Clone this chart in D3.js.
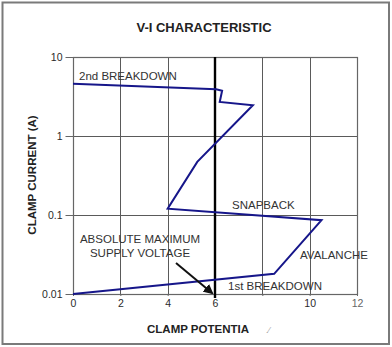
<!DOCTYPE html>
<html>
<head>
<meta charset="utf-8">
<script src="https://cdn.jsdelivr.net/npm/d3@7"></script>
<style>
  html, body { margin: 0; padding: 0; background: #fff; }
  svg { display: block; font-family: Arial, "Liberation Sans", sans-serif; }
</style>
</head>
<body>
<svg id="chart" width="392" height="347"></svg>
<script>
// Clamp voltage (V) and clamp current (A) along the V-I curve
const clampVoltage = [0, 8.5, 10.5, 4.0, 5.25, 7.6, 6.2, 6.3, 6.05, 0];
const clampCurrent = [0.01, 0.018, 0.086, 0.12, 0.47, 2.45, 2.7, 3.75, 3.9, 4.6];

const xTicks = [0, 2, 4, 6, 8, 10, 12];
const xTickLabels = ["0", "2", "4", "6", "", "10", "12"];
const yTicks = [0.01, 0.1, 1, 10];
const yTickLabels = ["0.01", "0.1", "1", "10"];

const supplyLimit = 6; // absolute maximum supply voltage

const svg = d3.select("#chart");
const W = 392, H = 347;
const plot = { left: 73, right: 357, top: 57, bottom: 294 };

const x = d3.scaleLinear().domain([0, 12]).range([plot.left, plot.right]);
const y = d3.scaleLog().domain([0.01, 10]).range([plot.bottom, plot.top]);

// outer frame
svg.append("rect")
  .attr("x", 2.5).attr("y", 2.5).attr("width", W - 5.5).attr("height", H - 5.5)
  .attr("fill", "none").attr("stroke", "#7a7a7a").attr("stroke-width", 2);

// title
svg.append("text")
  .attr("x", 204).attr("y", 32)
  .attr("text-anchor", "middle")
  .attr("font-weight", "bold").attr("font-size", 13)
  .attr("fill", "#222")
  .text("V-I CHARACTERISTIC");

// grid
const grid = svg.append("g").attr("stroke", "#5a5a5a").attr("stroke-width", 1);
grid.selectAll("line.vx").data(xTicks.filter(d => d > 0 && d < 12 && d !== supplyLimit))
  .enter().append("line")
  .attr("x1", d => Math.round(x(d)) + 0.5).attr("x2", d => Math.round(x(d)) + 0.5)
  .attr("y1", plot.top).attr("y2", plot.bottom);
grid.selectAll("line.hy").data(yTicks.filter(d => d > 0.01 && d < 10))
  .enter().append("line")
  .attr("y1", d => Math.round(y(d)) + 0.5).attr("y2", d => Math.round(y(d)) + 0.5)
  .attr("x1", plot.left).attr("x2", plot.right);

// plot border
svg.append("rect")
  .attr("x", plot.left + 0.5).attr("y", plot.top + 0.5)
  .attr("width", plot.right - plot.left).attr("height", plot.bottom - plot.top)
  .attr("fill", "none").attr("stroke", "#666").attr("stroke-width", 1.2);

// y axis
const yAxis = d3.axisLeft(y)
  .tickValues(yTicks)
  .tickFormat((d, i) => yTickLabels[i])
  .tickSize(8).tickPadding(3);
const gy = svg.append("g").attr("transform", `translate(${plot.left + 0.5},0)`).call(yAxis);
gy.select(".domain").remove();
gy.selectAll(".tick line").attr("stroke", "#666");
gy.selectAll(".tick text").attr("font-size", 10.5).attr("fill", "#2a2a2a")
  .attr("font-family", "Arial, 'Liberation Sans', sans-serif");

// x axis
const xAxis = d3.axisBottom(x)
  .tickValues(xTicks)
  .tickFormat((d, i) => xTickLabels[i])
  .tickSize(2).tickPadding(4);
const gx = svg.append("g").attr("transform", `translate(0,${plot.bottom})`).call(xAxis);
gx.select(".domain").remove();
gx.selectAll(".tick line").attr("stroke", "#666");
gx.selectAll(".tick text").attr("font-size", 10.5).attr("fill", "#2a2a2a")
  .attr("font-family", "Arial, 'Liberation Sans', sans-serif");
gx.selectAll(".tick text").filter(d => d === 12).attr("fill", "#666");

// axis titles
svg.append("text")
  .attr("transform", `translate(36,175) rotate(-90)`)
  .attr("text-anchor", "middle")
  .attr("font-weight", "bold").attr("font-size", 11.5).attr("fill", "#222")
  .text("CLAMP CURRENT (A)");
svg.append("text")
  .attr("x", 147).attr("y", 333)
  .attr("font-weight", "bold").attr("font-size", 11.5).attr("fill", "#222")
  .text("CLAMP POTENTIA");
svg.append("text")
  .attr("x", 266).attr("y", 333)
  .attr("font-size", 9).attr("fill", "#aaa")
  .text(".\u2044");

// supply voltage limit line
svg.append("line")
  .attr("x1", x(supplyLimit)).attr("x2", x(supplyLimit))
  .attr("y1", plot.top).attr("y2", plot.bottom + 4)
  .attr("stroke", "#000").attr("stroke-width", 2.4);

// V-I curve
const line = d3.line().x(d => x(d[0])).y(d => y(d[1]));
svg.append("path")
  .datum(d3.zip(clampVoltage, clampCurrent))
  .attr("d", line)
  .attr("fill", "none")
  .attr("stroke", "#16168a")
  .attr("stroke-width", 2)
  .attr("stroke-linejoin", "miter");

// annotations
const notes = svg.append("g").attr("font-size", 11.5).attr("fill", "#333");
notes.append("text").attr("x", 79).attr("y", 80).text("2nd BREAKDOWN");
notes.append("text").attr("x", 232).attr("y", 209).text("SNAPBACK");
notes.append("text").attr("x", 300).attr("y", 259).text("AVALANCHE");
notes.append("text").attr("x", 228).attr("y", 290).text("1st BREAKDOWN");
notes.append("text").attr("x", 140).attr("y", 243).attr("text-anchor", "middle").text("ABSOLUTE MAXIMUM");
notes.append("text").attr("x", 140).attr("y", 257).attr("text-anchor", "middle").text("SUPPLY VOLTAGE");

// arrow pointing at the limit on the voltage axis
svg.append("defs").append("marker")
  .attr("id", "arrowhead")
  .attr("viewBox", "0 0 10 10").attr("refX", 8).attr("refY", 5)
  .attr("markerWidth", 5).attr("markerHeight", 5)
  .attr("orient", "auto")
  .append("path").attr("d", "M0,0 L10,5 L0,10 z").attr("fill", "#111");
svg.append("line")
  .attr("x1", 176).attr("y1", 263)
  .attr("x2", x(supplyLimit) - 3).attr("y2", plot.bottom - 1)
  .attr("stroke", "#111").attr("stroke-width", 2)
  .attr("marker-end", "url(#arrowhead)");
</script>
</body>
</html>
